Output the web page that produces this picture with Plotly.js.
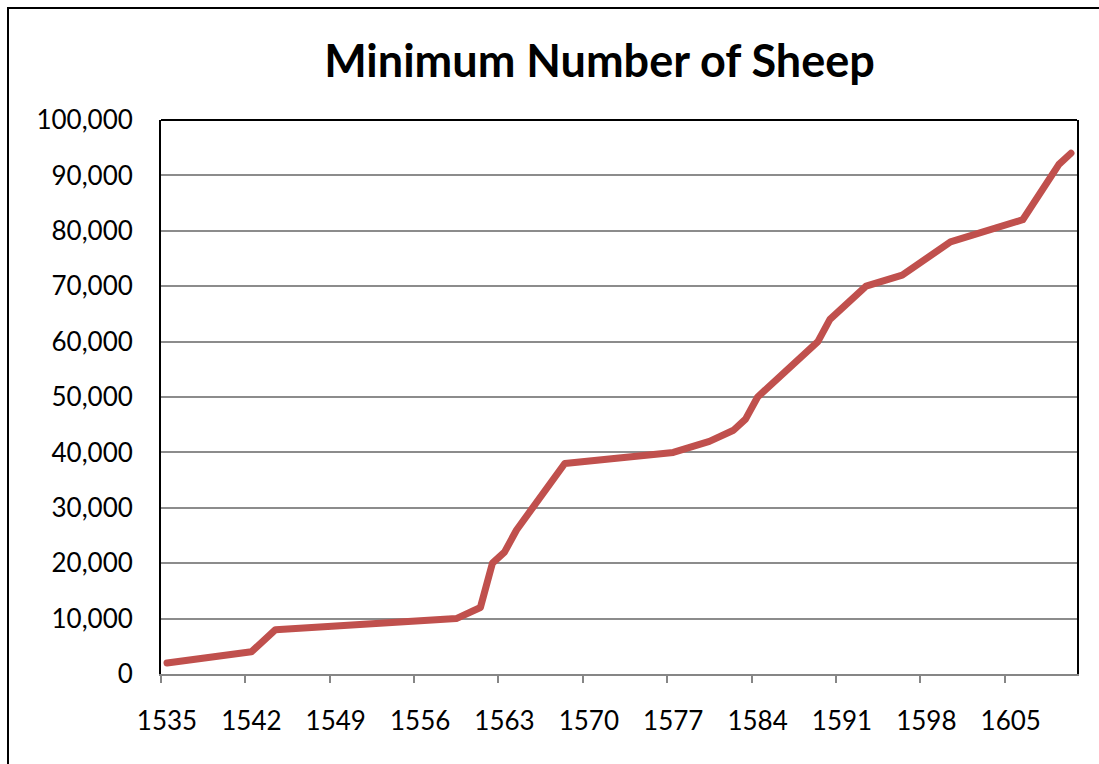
<!DOCTYPE html>
<html>
<head>
<meta charset="utf-8">
<script src="https://cdn.plot.ly/plotly-3.0.1.min.js"></script>
<style>
  html, body { margin: 0; padding: 0; background: #fff; overflow: hidden; }
  #frame { position: absolute; left: 7px; top: 7px; width: 1200px; height: 900px; border: 2px solid #000; box-sizing: border-box; }
  #chart { position: absolute; left: 0; top: 0; width: 1099px; height: 764px; }
  .js-line { stroke-linejoin: round !important; stroke-linecap: round !important; }
</style>
</head>
<body>
<div id="frame"></div>
<div id="chart"></div>
<script>
// Data
const years = [1535, 1542, 1544, 1559, 1561, 1562, 1563, 1564, 1568, 1577, 1580, 1582, 1583, 1584, 1589, 1590, 1593, 1596, 1600, 1606, 1609, 1610];
const sheep = [2000, 4000, 8000, 10000, 12000, 20000, 22000, 26000, 38000, 40000, 42000, 44000, 46000, 50000, 60000, 64000, 70000, 72000, 78000, 82000, 92000, 94000];
const tickYears = [1535, 1542, 1549, 1556, 1563, 1570, 1577, 1584, 1591, 1598, 1605];
const yTicks = [0, 10000, 20000, 30000, 40000, 50000, 60000, 70000, 80000, 90000, 100000];

const FONT = 'Lato, "Open Sans", sans-serif';
const xRange = [1534.5, 1610.5];

const trace = {
  x: years, y: sheep, type: 'scatter', mode: 'lines',
  line: { color: '#C0504D', width: 7 },
  hoverinfo: 'x+y', showlegend: false
};
// invisible trace to activate the tick-mark axis
const tickTrace = { x: [xRange[0]], y: [0], xaxis: 'x2', yaxis: 'y', mode: 'markers', marker: { opacity: 0 }, showlegend: false, hoverinfo: 'skip' };

const layout = {
  width: 1099, height: 764,
  paper_bgcolor: 'rgba(0,0,0,0)', plot_bgcolor: '#fff',
  margin: { l: 161, r: 22, t: 120, b: 90 },
  font: { family: FONT, color: '#000' },
  title: {
    text: '<b>Minimum Number of Sheep</b>',
    font: { family: FONT, size: 45, color: '#000' },
    x: 0.5455, xref: 'container', xanchor: 'center',
    y: 0.92, yref: 'container', yanchor: 'middle'
  },
  xaxis: {
    range: xRange, tickmode: 'array', tickvals: tickYears, ticktext: tickYears.map(String),
    ticks: '', showgrid: false, zeroline: false,
    showline: true, linecolor: '#868686', linewidth: 2,
    tickfont: { family: FONT, size: 26, color: '#000' }, ticklabelstandoff: 23
  },
  xaxis2: {
    overlaying: 'x', side: 'bottom', range: xRange, anchor: 'y',
    tickmode: 'array', tickvals: tickYears.map(v => v - 0.5),
    ticks: 'outside', ticklen: 8, tickwidth: 2, tickcolor: '#868686',
    showticklabels: false, showgrid: false, zeroline: false, showline: false
  },
  yaxis: {
    range: [0, 100000], tickmode: 'array', tickvals: yTicks,
    tickformat: ',', ticks: '', showgrid: true, gridcolor: '#8c8c8c', gridwidth: 2,
    zeroline: false, showline: true, linecolor: '#000', linewidth: 2, mirror: true,
    tickfont: { family: FONT, size: 26, color: '#000' }, ticklabelstandoff: 21
  },
  shapes: [
    { type: 'line', xref: 'paper', yref: 'paper', x0: 0, x1: 1, y0: 1, y1: 1, line: { color: '#000', width: 2 } }
  ]
};

Plotly.newPlot('chart', [trace, tickTrace], layout, { displayModeBar: false, staticPlot: true });
</script>
</body>
</html>
